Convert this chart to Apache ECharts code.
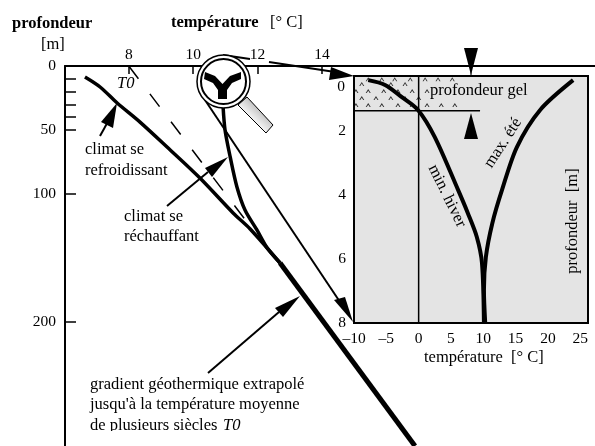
<!DOCTYPE html>
<html>
<head>
<meta charset="utf-8">
<script src="https://cdn.jsdelivr.net/npm/echarts@6/dist/echarts.min.js"></script>
<style>html,body{margin:0;padding:0;background:#fff}#chart{width:595px;height:446px}</style>
</head>
<body>
<div id="chart"></div>
<script>
"use strict";
// graphique principal : [température, profondeur]
var coolingCurve = [[6.64, 8.6], [7.11, 16.4], [7.64, 28.9], [8.35, 43.8], [9.19, 63.3], [10.21, 87.5], [11.24, 114.8], [11.77, 127.3], [12.7, 153.9]];
var warmingCurve = [[10.93, 32], [10.99, 50], [11.15, 71], [11.36, 94.5], [11.61, 112.5], [11.98, 128.1], [12.3, 142.2], [12.7, 153.9]];
var gradientDashed = [[8, 0], [11.67, 121.9]];
var gradientSolid = [[12.7, 153.9], [16.89, 296.9]];
var mainTempTicks = [8, 10, 12, 14];
var mainDepthLabels = [0, 50, 100, 200];
var mainDepthTicks = [10, 20, 30, 40, 50, 100, 200];

// encart : [température, profondeur]
var winterMin = [[-7.8, 0.41], [-5.2, 0.56], [-2.6, 0.94], [-0.1, 1.34], [2.5, 2.19], [6.1, 3.84], [7.6, 4.56], [9, 5.31], [9.8, 6.13], [10.1, 8]];
var summerMax = [[23.9, 0.41], [18.8, 1.34], [15.2, 2.5], [12.9, 3.84], [11.4, 4.88], [10.4, 5.94], [10.1, 6.97], [10.3, 8]];
var zeroLine = [[0, 0.28], [0, 8]];
var frostLine = [[-10, 1.37], [9.5, 1.37]];
var insetTempTicks = [-5, 0, 5, 10, 15, 20, 25];
var insetTempLabels = [-10, -5, 0, 5, 10, 15, 20, 25];
var insetDepthTicks = [2, 4, 6, 8];
var frostTemp = [-7.8, -5.7, -3.7, -1.3, 1, 3, 5.2, -8.8, -4.3, -2.1, -9.7, -7.8, -5.4, -3.2, -1, 1.3, -8.8, -6.6, -4.3, -2.1, 0, -9.7, -7.8, -5.7, -3.2, -1, 1.3, 3.5, 5.6];
var frostDepth = [0.38, 0.38, 0.38, 0.38, 0.38, 0.38, 0.38, 0.53, 0.53, 0.53, 0.75, 0.75, 0.75, 0.75, 0.75, 0.75, 0.97, 0.97, 0.97, 0.97, 0.97, 1.19, 1.19, 1.19, 1.19, 1.19, 1.19, 1.19, 1.19];

var FONT = '"Liberation Serif", serif';
var myChart = echarts.init(document.getElementById('chart'));

function curve(data, width, xi, extra) {
    var s = {
        type: 'line', data: data, xAxisIndex: xi, yAxisIndex: xi > 1 ? 1 : xi,
        showSymbol: false, silent: true, animation: false, z: 5,
        lineStyle: { color: '#000', width: width, cap: 'butt' }
    };
    return Object.assign(s, extra || {});
}
function txt(x, y, text, o) {
    o = o || {};
    return {
        type: 'text', x: x, y: y, z: 100, rotation: o.rot || 0,
        style: {
            text: text, fill: '#000', font: (o.font || '') + ' ' + (o.size || 16.5) + 'px ' + FONT,
            textAlign: o.align || 'left', textVerticalAlign: 'middle'
        }
    };
}
function tri(points) {
    return { type: 'polygon', z: 90, shape: { points: points }, style: { fill: '#000' } };
}
function seg(x1, y1, x2, y2, w) {
    return { type: 'line', z: 90, shape: { x1: x1, y1: y1, x2: x2, y2: y2 }, style: { stroke: '#000', lineWidth: w || 2 } };
}

var graphics = [
    txt(12, 24, 'profondeur', { font: 'bold' }),
    txt(41, 45, '[m]'),
    txt(171, 23, 'température', { font: 'bold' }),
    txt(270, 23, '[° C]'),
    txt(117, 84, 'T0', { font: 'italic' }),
    txt(85, 150, 'climat se'),
    txt(85, 171, 'refroidissant'),
    txt(124, 217, 'climat se'),
    txt(124, 237, 'réchauffant'),
    txt(90, 385, 'gradient géothermique extrapolé'),
    txt(90, 405, "jusqu'à la température moyenne"),
    txt(90, 426, 'de plusieurs siècles'),
    txt(223, 426, 'T0', { font: 'italic' }),
    { type: 'rect', z: 101, shape: { x: 88, y: 431, width: 160, height: 8 }, style: { fill: '#fff' } },
    txt(430, 91, 'profondeur gel'),
    txt(341, 87, '0', { align: 'center', size: 15.5 }),
    txt(424, 358, 'température  [° C]'),
    txt(573, 221, 'profondeur  [m]', { rot: Math.PI / 2, align: 'center' }),
    txt(447, 196, 'min. hiver', { rot: -64 * Math.PI / 180, align: 'center' }),
    txt(503, 143, 'max. été', { rot: 57 * Math.PI / 180, align: 'center' }),

    // flèches
    seg(100, 136, 110, 118), tri([[117, 103], [101, 122], [113, 128]]),
    seg(167, 206, 208, 172), tri([[228, 157], [205, 168], [212, 177]]),
    seg(208, 373, 279, 312), tri([[300, 296], [275, 308], [283, 317]]),
    seg(223, 55, 250, 59), seg(269, 62, 335, 72), tri([[354, 76], [331, 67], [329, 80]]),
    seg(205, 100, 340, 302), tri([[353, 322], [334, 300], [345, 297]]),
    tri([[464, 48], [478, 48], [471, 75]]), seg(471, 70, 471, 76, 1),
    tri([[471, 113], [464, 139], [478, 139]]),

    // loupe
    {
        type: 'polygon', z: 91, shape: { points: [[238, 105], [247, 97], [273, 125], [266, 133]] },
        style: {
            stroke: '#000', lineWidth: 1,
            fill: new echarts.graphic.LinearGradient(0, 1, 1, 0, [
                { offset: 0, color: '#ddd' }, { offset: 0.4, color: '#f4f4f4' }, { offset: 1, color: '#777' }
            ])
        }
    },
    { type: 'circle', z: 92, shape: { cx: 223.5, cy: 81.5, r: 26.5 }, style: { fill: '#fff', stroke: '#000', lineWidth: 1.5 } },
    { type: 'circle', z: 93, shape: { cx: 223.5, cy: 81.5, r: 22.5 }, style: { fill: '#fff', stroke: '#000', lineWidth: 2 } },
    { type: 'polygon', z: 94, shape: { points: [[205, 72], [215, 76], [222.5, 84], [230, 76], [241, 72], [241, 79], [232, 83], [227, 90], [227, 99], [218, 99], [218, 90], [213, 83], [204, 79]] }, style: { fill: '#000' } }
];

var option = {
    backgroundColor: '#fff',
    animation: false,
    textStyle: { fontFamily: FONT },
    grid: [
        { left: 65, top: 66, width: 530, height: 380, show: false },
        { left: 354, top: 76, width: 234, height: 247, show: true, backgroundColor: '#e4e4e4', borderColor: '#000', borderWidth: 2, z: 3 }
    ],
    xAxis: [
        {
            gridIndex: 0, type: 'value', position: 'top', min: 6.02, max: 22.48, splitLine: { show: false },
            axisLine: { lineStyle: { color: '#000', width: 2 } },
            axisTick: { inside: true, length: 8, customValues: mainTempTicks, lineStyle: { color: '#000', width: 1.5 } },
            axisLabel: { customValues: mainTempTicks, color: '#000', fontSize: 15.5, margin: 3, fontFamily: FONT }
        },
        {
            gridIndex: 1, type: 'value', position: 'bottom', min: -10, max: 26.2, splitLine: { show: false },
            axisLine: { lineStyle: { color: '#000', width: 2 } },
            axisTick: { inside: true, length: 10, customValues: insetTempTicks, lineStyle: { color: '#000', width: 1.5 } },
            axisLabel: {
                customValues: insetTempLabels, color: '#000', fontSize: 15.5, margin: 8, fontFamily: FONT,
                formatter: function (v) { return String(v).replace('-', '–'); }
            }
        },
        {
            gridIndex: 1, type: 'value', position: 'top', min: -10, max: 26.2, splitLine: { show: false },
            axisLine: { show: false },
            axisTick: { inside: true, length: 4, customValues: insetTempTicks, lineStyle: { color: '#000', width: 1.5 } },
            axisLabel: { show: false }
        }
    ],
    yAxis: [
        {
            gridIndex: 0, type: 'value', inverse: true, min: 0, max: 296.875, splitLine: { show: false },
            axisLine: { lineStyle: { color: '#000', width: 2 } },
            axisTick: { inside: true, length: 11, customValues: mainDepthTicks, lineStyle: { color: '#000', width: 1.5 } },
            axisLabel: { customValues: mainDepthLabels, color: '#000', fontSize: 15.5, margin: 9, fontFamily: FONT }
        },
        {
            gridIndex: 1, type: 'value', inverse: true, min: 0.28, max: 8, splitLine: { show: false },
            axisLine: { lineStyle: { color: '#000', width: 2 } },
            axisTick: { inside: true, length: 10, customValues: insetDepthTicks, lineStyle: { color: '#000', width: 1.5 } },
            axisLabel: { customValues: insetDepthTicks, color: '#000', fontSize: 15.5, margin: 8, fontFamily: FONT }
        }
    ],
    series: [
        curve(gradientDashed, 1.5, 0, { lineStyle: { color: '#000', width: 1.5, type: [16, 19] } }),
        curve(coolingCurve, 3.5, 0, { smooth: 0.3 }),
        curve(warmingCurve, 3.5, 0, { smooth: 0.3 }),
        curve(gradientSolid, 5, 0),
        curve(frostLine, 1.5, 1, {
            z: 4,
            markArea: {
                silent: true, itemStyle: { color: '#fff' },
                data: [
                    [{ coord: [-10, 0.28] }, { coord: [7.3, 1.37] }],
                    [{ coord: [0.3, 0.47] }, { coord: [18.9, 1.06] }]
                ]
            }
        }),
        {
            type: 'scatter', xAxisIndex: 1, yAxisIndex: 1, silent: true, z: 4,
            symbol: 'path://M0 10 L5 0 L10 10 L8 10 L5 4 L2 10Z', symbolSize: [5, 4],
            itemStyle: { color: '#000' },
            data: frostTemp.map(function (t, i) { return [t, frostDepth[i]]; })
        },
        curve(zeroLine, 1.5, 1, { z: 4 }),
        curve(winterMin, 4, 1, { smooth: 0.3 }),
        curve(summerMax, 4, 1, { smooth: 0.3 })
    ],
    graphic: { elements: graphics }
};
myChart.setOption(option);

window.onresize = function () {
    myChart.resize();
};
</script>
</body>
</html>
